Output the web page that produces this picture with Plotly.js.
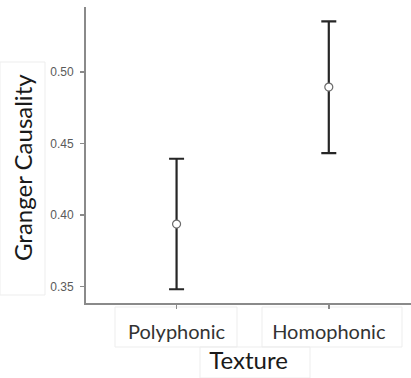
<!DOCTYPE html>
<html>
<head>
<meta charset="utf-8">
<script src="https://cdn.plot.ly/plotly-3.0.1.min.js"></script>
<style>html,body{margin:0;padding:0;background:#fff;}#chart{width:411px;height:378px;}</style>
</head>
<body>
<div id="chart"></div>
<script>
const categories = ["Polyphonic", "Homophonic"];
const means = [0.3937, 0.4893];
const upperErr = [0.0456, 0.0459];
const lowerErr = [0.0455, 0.0461];
const yTickVals = [0.35, 0.40, 0.45, 0.50];
const yTickText = ["0.35", "0.40", "0.45", "0.50"];
const xTitle = "Texture";
const yTitle = "Granger Causality";

const trace = {
  type: "scatter",
  mode: "markers",
  x: categories,
  y: means,
  error_y: {
    type: "data",
    symmetric: false,
    array: upperErr,
    arrayminus: lowerErr,
    color: "#262626",
    thickness: 2.2,
    width: 7.5
  },
  marker: {symbol: "circle", size: 8, color: "#ffffff", line: {color: "#6b6b6b", width: 1.2}},
  hoverinfo: "skip",
  showlegend: false
};

const layout = {
  width: 411, height: 378,
  margin: {l: 86, r: 0, t: 7, b: 75},
  paper_bgcolor: "#ffffff",
  plot_bgcolor: "#ffffff",
  xaxis: {
    type: "category",
    categoryarray: categories,
    range: [-0.595, 1.54],
    showgrid: false, zeroline: false,
    showline: true, linecolor: "#8a8a8a", linewidth: 2,
    ticks: "outside", ticklen: 4, tickcolor: "#8a8a8a", tickwidth: 1.5,
    ticklabelstandoff: 6,
    tickfont: {family: "Lato, 'Open Sans', sans-serif", size: 20, color: "#333333"},
    title: {text: xTitle, font: {family: "Lato, 'Open Sans', sans-serif", size: 24, color: "#1a1a1a"}, standoff: 10}
  },
  yaxis: {
    range: [0.3386, 0.5452],
    tickvals: yTickVals,
    ticktext: yTickText,
    showgrid: false, zeroline: false,
    showline: true, linecolor: "#8a8a8a", linewidth: 2,
    ticks: "outside", ticklen: 4, tickcolor: "#8a8a8a", tickwidth: 1.5,
    ticklabelstandoff: 4,
    tickfont: {family: "'Liberation Sans', Arial, sans-serif", size: 12, color: "#5a5a5a"}
  },
  annotations: [
    {text: yTitle, textangle: -90, xref: "paper", yref: "paper",
     x: (23 - 86) / 325, y: (303 - 168) / 296, xanchor: "center", yanchor: "middle",
     showarrow: false, font: {family: "Lato, 'Open Sans', sans-serif", size: 24, color: "#1a1a1a"}}
  ],
  shapes: [
    {type: "rect", xref: "paper", yref: "paper", x0: (115-86)/325, x1: (237-86)/325, y0: (303-307)/296, y1: (303-347)/296, line: {color: "#ededed", width: 1}, layer: "below"},
    {type: "rect", xref: "paper", yref: "paper", x0: (262-86)/325, x1: (402-86)/325, y0: (303-307)/296, y1: (303-347)/296, line: {color: "#ededed", width: 1}, layer: "below"},
    {type: "rect", xref: "paper", yref: "paper", x0: (200-86)/325, x1: (310-86)/325, y0: (303-347)/296, y1: (303-378)/296, line: {color: "#ededed", width: 1}, layer: "below"},
    {type: "rect", xref: "paper", yref: "paper", x0: (0-86)/325, x1: (45-86)/325, y0: (303-62)/296, y1: (303-295)/296, line: {color: "#ededed", width: 1}, layer: "below"}
  ]
};

Plotly.newPlot("chart", [trace], layout, {displayModeBar: false, staticPlot: true});
</script>
</body>
</html>
